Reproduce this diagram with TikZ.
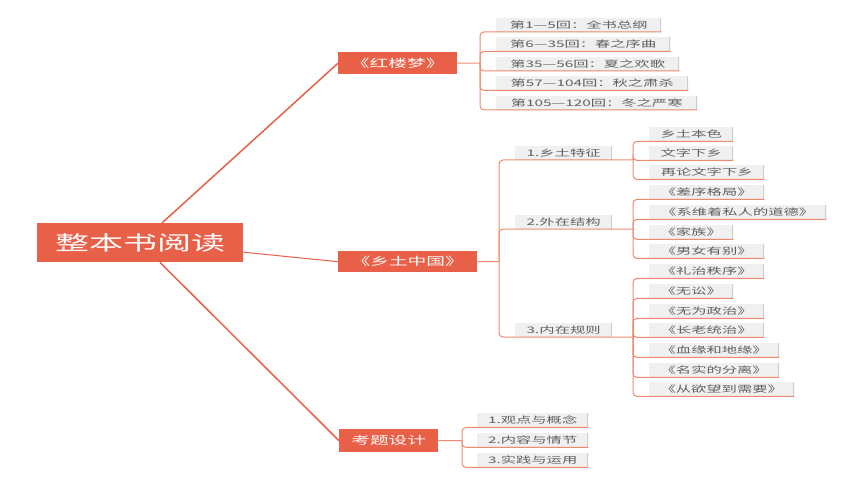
\documentclass[tikz,border=0pt]{standalone}
\usepackage{fontspec}
\setmainfont[FakeStretch=1.7]{Noto Sans CJK SC}
\usetikzlibrary{calc}
\definecolor{mainred}{RGB}{233,96,72}
\definecolor{connc}{RGB}{238,138,110}
\definecolor{leafg}{RGB}{240,240,240}
\definecolor{leaft}{RGB}{95,95,95}
\definecolor{edgeg}{RGB}{205,205,205}
\newcommand\bx[7][leaf]{\node[#1,anchor=north west,minimum width={#5-#3},minimum height={#6-#4}] (#2) at (#3,#4) {#7};}
\begin{document}
\begin{tikzpicture}[x=1pt,y=-1pt,
 rootbox/.style={fill=mainred,text=white,inner sep=0pt,font=\fontsize{20}{24}\selectfont},
 branch/.style={fill=mainred,text=white,inner sep=0pt,font=\fontsize{11}{13}\selectfont},
 leaf/.style={fill=leafg,text=leaft,inner sep=0pt,font=\fontsize{9}{11}\selectfont,
   path picture={\draw[edgeg,line width=2pt] (path picture bounding box.north east) -- (path picture bounding box.south east);}},
 mainline/.style={draw=mainred,line width=1.5pt},
 conn/.style={draw=connc,line width=1pt,rounded corners=4pt},
]
\useasboundingbox (0,0) rectangle (860,484);
% root and branches
\bx[rootbox]{root}{37}{223}{243}{262}{整本书阅读}
\bx[branch]{hl}{338}{52}{457}{74}{《红楼梦》}
\bx[branch]{xt}{338}{251}{477}{272}{《乡土中国》}
\bx[branch]{kt}{339}{429}{438}{452}{考题设计}
% hongloumeng leaves
\bx{h1}{496}{17.5}{661}{31.5}{第1—5回：全书总纲}
\bx{h2}{496}{37}{670}{51}{第6—35回：春之序曲}
\bx{h3}{496}{56.5}{679}{70.5}{第35—56回：夏之欢歌}
\bx{h4}{496}{76}{688}{90}{第57—104回：秋之肃杀}
\bx{h5}{496}{95.5}{697}{109.5}{第105—120回：冬之严寒}
% xiangtu zhongguo
\bx{x1}{515}{146}{612}{160}{1.乡土特征}
\bx{x2}{515}{215}{612}{229}{2.外在结构}
\bx{x3}{515}{323}{612}{337}{3.内在规则}
\bx{a1}{649}{127}{733}{141}{乡土本色}
\bx{a2}{649}{146}{733}{160}{文字下乡}
\bx{a3}{649}{165}{764}{179}{再论文字下乡}
\bx{b1}{649}{185}{764}{199}{《差序格局》}
\bx{b2}{649}{205}{826}{219}{《系维着私人的道德》}
\bx{b3}{649}{225}{733}{239}{《家族》}
\bx{b4}{649}{244}{764}{258}{《男女有别》}
\bx{c1}{649}{264}{764}{278}{《礼治秩序》}
\bx{c2}{649}{284}{733}{298}{《无讼》}
\bx{c3}{649}{304}{764}{318}{《无为政治》}
\bx{c4}{649}{323}{764}{337}{《长老统治》}
\bx{c5}{649}{343}{779}{357}{《血缘和地缘》}
\bx{c6}{649}{363}{779}{377}{《名实的分离》}
\bx{c7}{649}{382}{794}{396}{《从欲望到需要》}
% kaoti sheji
\bx{k1}{477}{413}{588}{427}{1.观点与概念}
\bx{k2}{477}{433}{588}{447}{2.内容与情节}
\bx{k3}{477}{453}{588}{467}{3.实践与运用}
% bracket coordinates
\coordinate (bh) at (480,63);
\coordinate (bx) at (499,261.5);
\coordinate (s1) at (633,160);
\coordinate (s2) at (633,229);
\coordinate (s3) at (633,337);
\coordinate (bk) at (462,440.5);
% root lines
\draw[mainline] ([xshift=125pt]root.north west) -- (hl.west);
\draw[draw=mainred,line width=1pt] ([yshift=-9.5pt]root.east) -- (xt.west);
\draw[mainline] ([xshift=123pt]root.south west) -- (kt.west);
% connectors
\draw[conn] (hl.east) -- (bh);
\foreach \c in {h1,h2,h3,h4,h5} \draw[conn] (bh) |- (\c.south east);
\draw[conn] (xt.east) -- (bx);
\foreach \c in {s1,s2,s3} \draw[conn] (bx) |- (\c);
\foreach \c in {a1,a2,a3} \draw[conn] (s1) |- (\c.south east);
\foreach \c in {b1,b2,b3,b4} \draw[conn] (s2) |- (\c.south east);
\foreach \c in {c1,c2,c3,c4,c5,c6,c7} \draw[conn] (s3) |- (\c.south east);
\draw[conn] (kt.east) -- (bk);
\foreach \c in {k1,k2,k3} \draw[conn] (bk) |- (\c.south east);
\end{tikzpicture}
\end{document}
